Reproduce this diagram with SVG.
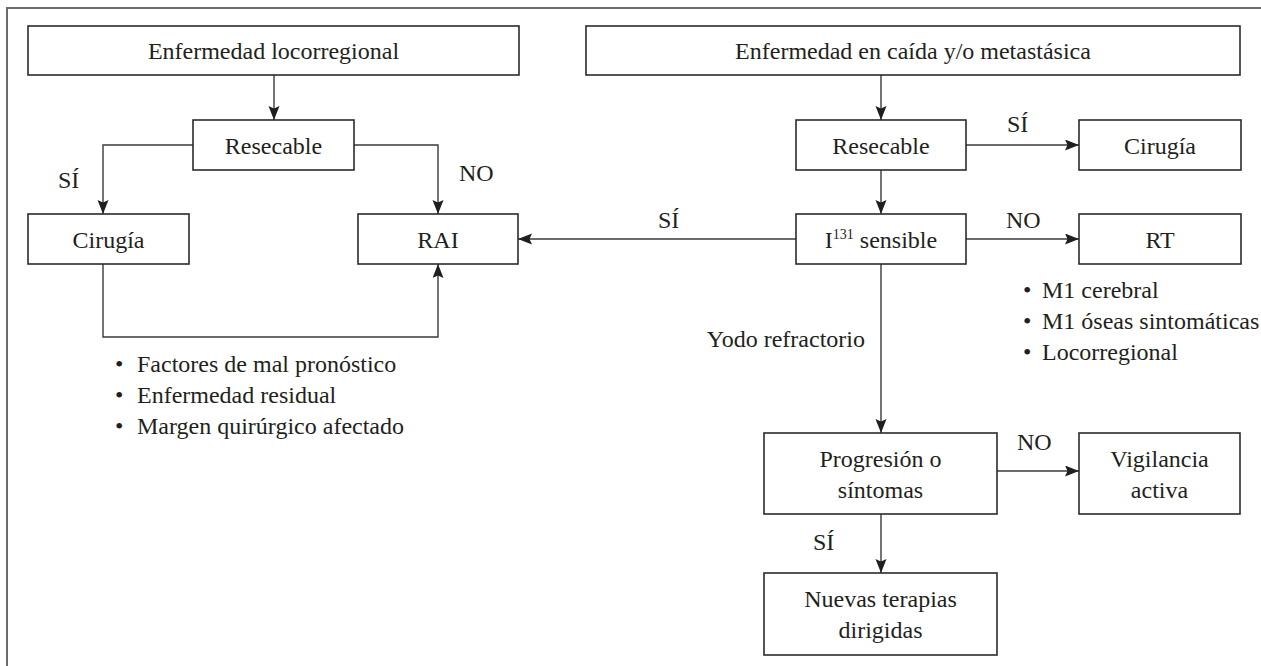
<svg xmlns="http://www.w3.org/2000/svg" width="1261" height="666" viewBox="0 0 1261 666">
<style>
.t{font-family:'Liberation Serif','Times New Roman',Tinos,'DejaVu Serif',serif;font-size:24px;fill:#231f20}
.c{text-anchor:middle}
.box{fill:#fff;stroke:#2b2b2b;stroke-width:1.6}
.ln{fill:none;stroke:#3a3a3a;stroke-width:1.4}
.ar{marker-end:url(#ah)}
</style>
<defs>
<marker id="ah" markerUnits="userSpaceOnUse" markerWidth="16" markerHeight="12" refX="14" refY="5.5" orient="auto">
<path d="M0,0 L14,5.5 L0,11 L2.5,5.5 z" fill="#1f1f1f"/>
</marker>
</defs>
<rect x="7" y="8" width="1300" height="700" fill="none" stroke="#6b6b6b" stroke-width="2"/>
<g class="t" font-family="Liberation Serif, serif">
<g id="connectors">
<path class="ln ar" d="M274,75 V120"/>
<path class="ln ar" d="M193,145 H103 V214"/>
<path class="ln ar" d="M354,145 H438 V214"/>
<path class="ln ar" d="M103,264 V337 H438 V264"/>
<path class="ln ar" d="M881,75 V120"/>
<path class="ln ar" d="M966,145 H1079"/>
<path class="ln ar" d="M881,170 V214"/>
<path class="ln ar" d="M966,239 H1079"/>
<path class="ln ar" d="M797,239 H518"/>
<path class="ln ar" d="M881,264 V433"/>
<path class="ln ar" d="M997,471 H1079"/>
<path class="ln ar" d="M881,514 V573"/>
<text x="58" y="188">SÍ</text>
<text x="459" y="181">NO</text>
<text x="1007" y="132">SÍ</text>
<text x="1006" y="228">NO</text>
<text x="658" y="228">SÍ</text>
<text x="865" y="347" text-anchor="end">Yodo refractorio</text>
<text x="1017" y="450">NO</text>
<text x="813" y="550">SÍ</text>
</g>
<g id="n-locorregional"><rect class="box" x="28" y="26" width="491" height="49"/><text class="c" x="273.5" y="58.5">Enfermedad locorregional</text></g>
<g id="n-metastasica"><rect class="box" x="586" y="26" width="654" height="49"/><text class="c" x="913" y="58.5">Enfermedad en caída y/o metastásica</text></g>
<g id="n-resecable-l"><rect class="box" x="193" y="120" width="161" height="50"/><text class="c" x="273.5" y="153.5">Resecable</text></g>
<g id="n-cirugia-l"><rect class="box" x="28" y="214" width="161" height="50"/><text class="c" x="108.5" y="247.5">Cirugía</text></g>
<g id="n-rai"><rect class="box" x="358" y="214" width="160" height="50"/><text class="c" x="438" y="247.5">RAI</text></g>
<g id="n-resecable-r"><rect class="box" x="796" y="120" width="170" height="50"/><text class="c" x="881" y="153.5">Resecable</text></g>
<g id="n-cirugia-r"><rect class="box" x="1079" y="120" width="162" height="50"/><text class="c" x="1160" y="153.5">Cirugía</text></g>
<g id="n-i131"><rect class="box" x="796" y="214" width="170" height="50"/><text class="c" x="881" y="247.5">I<tspan font-size="14" dy="-9">131</tspan><tspan dy="9"> sensible</tspan></text></g>
<g id="n-rt"><rect class="box" x="1079" y="214" width="162" height="50"/><text class="c" x="1160" y="247.5">RT</text></g>
<g id="n-progresion"><rect class="box" x="764" y="433" width="233" height="81"/><text class="c" x="880.5" y="467">Progresión o</text><text class="c" x="880.5" y="498">síntomas</text></g>
<g id="n-vigilancia"><rect class="box" x="1079" y="433" width="161" height="81"/><text class="c" x="1159.5" y="467">Vigilancia</text><text class="c" x="1159.5" y="498">activa</text></g>
<g id="n-nuevas"><rect class="box" x="764" y="573" width="233" height="82"/><text class="c" x="880.5" y="607">Nuevas terapias</text><text class="c" x="880.5" y="638">dirigidas</text></g>
<g id="notes-left">
<text x="115" y="372">•</text><text x="137" y="372">Factores de mal pronóstico</text>
<text x="115" y="403">•</text><text x="137" y="403">Enfermedad residual</text>
<text x="115" y="434">•</text><text x="137" y="434">Margen quirúrgico afectado</text>
</g>
<g id="notes-right">
<text x="1023" y="298">•</text><text x="1042" y="298">M1 cerebral</text>
<text x="1023" y="329">•</text><text x="1042" y="329">M1 óseas sintomáticas</text>
<text x="1023" y="360">•</text><text x="1042" y="360">Locorregional</text>
</g>
</g>
</svg>
